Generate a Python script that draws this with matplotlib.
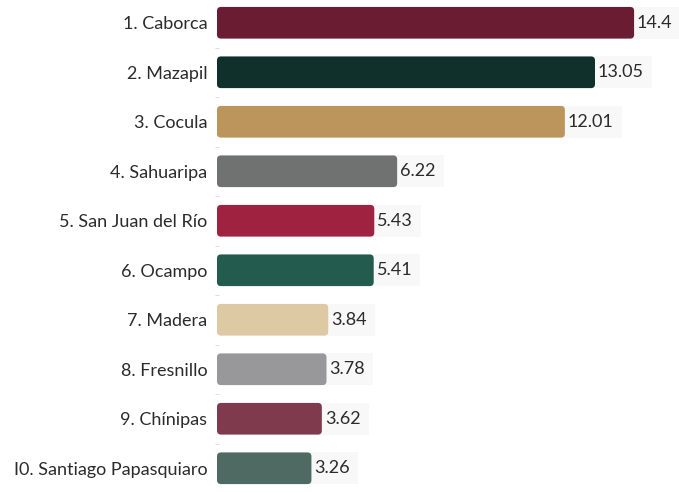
import numpy as np
import matplotlib.pyplot as plt
from matplotlib.patches import FancyBboxPatch

municipios = ["1. Caborca", "2. Mazapil", "3. Cocula", "4. Sahuaripa", "5. San Juan del Río",
              "6. Ocampo", "7. Madera", "8. Fresnillo", "9. Chínipas", "I0. Santiago Papasquiaro"]
valores = [14.4, 13.05, 12.01, 6.22, 5.43, 5.41, 3.84, 3.78, 3.62, 3.26]
etiquetas = ["14.4", "13.05", "12.01", "6.22", "5.43", "5.41", "3.84", "3.78", "3.62", "3.26"]
colores = ["#691c32", "#10312b", "#bc955c", "#6f7271", "#9f2241",
           "#235b4e", "#ddc9a3", "#98989a", "#7f3a4e", "#4e6a62"]

plt.rcParams['font.family'] = ['Lato', 'DejaVu Sans']

fig = plt.figure(figsize=(6.79, 4.93), dpi=100)
ax = fig.add_axes([217 / 679, 0, 462 / 679, 1])

x_max = 15.95
px_x = 462 / x_max  # pixels per unit on x
px_y = 493 / 9.82   # pixels per unit on y
bar_h = 0.64

for i, (v, c) in enumerate(zip(valores, colores)):
    # rounded bar, radius ~4 px
    rx = 4 / px_x
    ry = 4 / px_y
    patch = FancyBboxPatch((0, i - bar_h / 2), v, bar_h,
                           boxstyle="round,pad=0,rounding_size=%f" % rx,
                           mutation_aspect=ry / rx,
                           facecolor=c, edgecolor='none', zorder=3)
    ax.add_patch(patch)
    ax.text(v + 0.1, i, etiquetas[i], va='center', ha='left', fontsize=13, color='#2b2b2b', zorder=2,
            bbox=dict(boxstyle='square,pad=0.45', facecolor='#f8f8f8', edgecolor='none'))

ax.set_xlim(0, x_max)
ax.set_ylim(9.36, -0.46)
ax.set_yticks(np.arange(len(municipios)))
ax.set_yticklabels(municipios, fontsize=13, color='#2b2b2b')
ax.tick_params(axis='y', length=0, pad=7)
ax.set_yticks(np.arange(len(municipios)) + 0.5, minor=True)
ax.tick_params(axis='y', which='minor', length=3, color='#d8d8d8', direction='inout')
ax.set_xticks([])
for s in ax.spines.values():
    s.set_visible(False)

fig.savefig("out.png", dpi=100)
